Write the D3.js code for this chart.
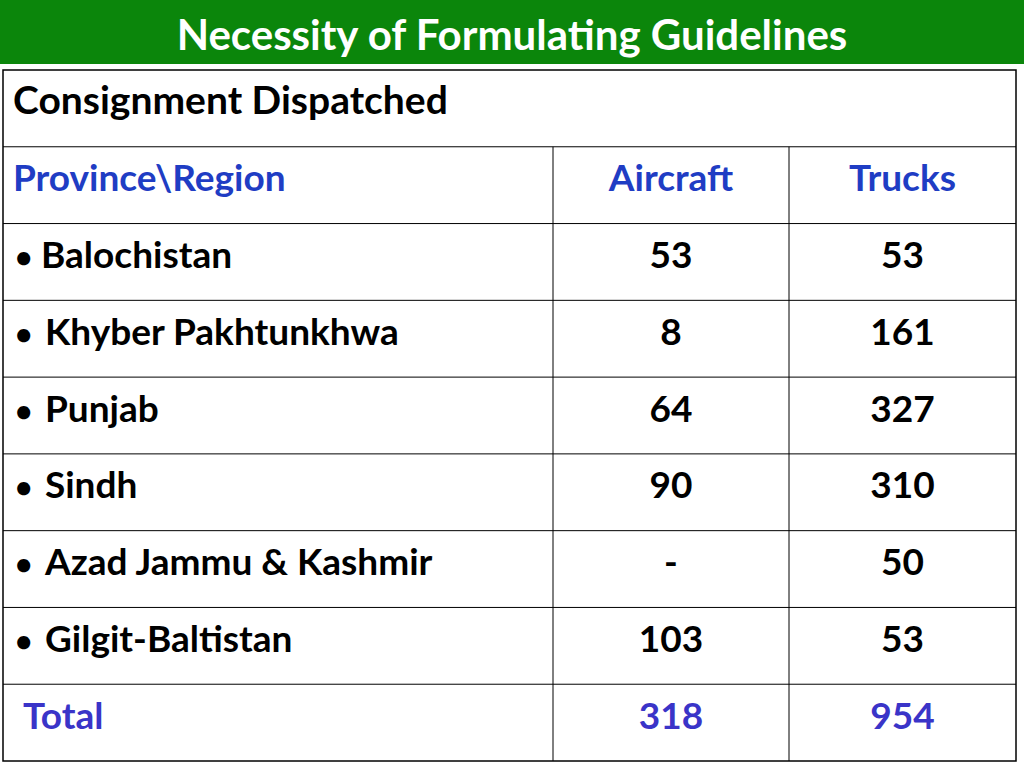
<!DOCTYPE html>
<html><head><meta charset="utf-8">
<script src="https://cdn.jsdelivr.net/npm/d3@7"></script>
<style>body{margin:0;background:#fff}</style>
</head><body>
<script>
// Data
const title = "Necessity of Formulating Guidelines";
const caption = "Consignment Dispatched";
const headers = ["Province\\Region", "Aircraft", "Trucks"];
const regions = ["Balochistan", "Khyber Pakhtunkhwa", "Punjab", "Sindh", "Azad Jammu & Kashmir", "Gilgit-Baltistan"];
const aircraft = ["53", "8", "64", "90", "-", "103"];
const trucks = ["53", "161", "327", "310", "50", "53"];
const totals = ["Total", "318", "954"];

const W = 1024, H = 768;
const svg = d3.select("body").append("svg").attr("width", W).attr("height", H);
const font = "Lato, 'Open Sans', sans-serif";

// Title bar
svg.append("rect").attr("x", 0).attr("y", 0).attr("width", W).attr("height", 64).attr("fill", "#0b860b");
svg.append("text").attr("x", 512).attr("y", 50).attr("text-anchor", "middle")
  .attr("font-family", font).attr("font-weight", "bold").attr("font-size", 42)
  .attr("fill", "#fff").text(title);

// Table geometry
const rowsN = 2 + regions.length + 1;
const y = d3.scaleLinear().domain([0, rowsN]).range([70, 761]);
const colX = [3, 553, 789, 1016];
const g = svg.append("g");

g.append("rect").attr("x", colX[0]).attr("y", y(0)).attr("width", colX[3] - colX[0])
  .attr("height", y(rowsN) - y(0)).attr("fill", "none").attr("stroke", "#000").attr("stroke-width", 1.5);

d3.range(1, rowsN).forEach(i => {
  g.append("line").attr("x1", colX[0]).attr("x2", colX[3]).attr("y1", y(i)).attr("y2", y(i))
    .attr("stroke", "#000").attr("stroke-width", 1);
});
[colX[1], colX[2]].forEach(x => {
  g.append("line").attr("x1", x).attr("x2", x).attr("y1", y(1)).attr("y2", y(rowsN))
    .attr("stroke", "#000").attr("stroke-width", 1);
});

function cell(text, col, row, color, align, size = 37, dx = 10) {
  const mid = (y(row) + y(row + 1)) / 2 + 6;
  const x = align === "start" ? colX[col] + dx : (colX[col] + colX[col + 1]) / 2;
  return g.append("text").attr("x", x).attr("y", mid).attr("text-anchor", align)
    .attr("font-family", font).attr("font-weight", "bold").attr("font-size", size)
    .attr("fill", color).text(text);
}

cell(caption, 0, 0, "#000", "start", 39).attr("y", 114);
const blue = "#1f3dc4";
cell(headers[0], 0, 1, blue, "start");
cell(headers[1], 1, 1, blue, "middle");
cell(headers[2], 2, 1, blue, "middle");

regions.forEach((r, i) => {
  cell("\u2022", 0, i + 2, "#000", "start", 30, 12);
  cell(r, 0, i + 2, "#000", "start", 37, i === 0 ? 38 : 42);
  cell(aircraft[i], 1, i + 2, "#000", "middle");
  cell(trucks[i], 2, i + 2, "#000", "middle");
});

const purple = "#3a34c8";
const tr = rowsN - 1;
cell(totals[0], 0, tr, purple, "start", 37, 20);
cell(totals[1], 1, tr, purple, "middle");
cell(totals[2], 2, tr, purple, "middle");
</script>
</body></html>
